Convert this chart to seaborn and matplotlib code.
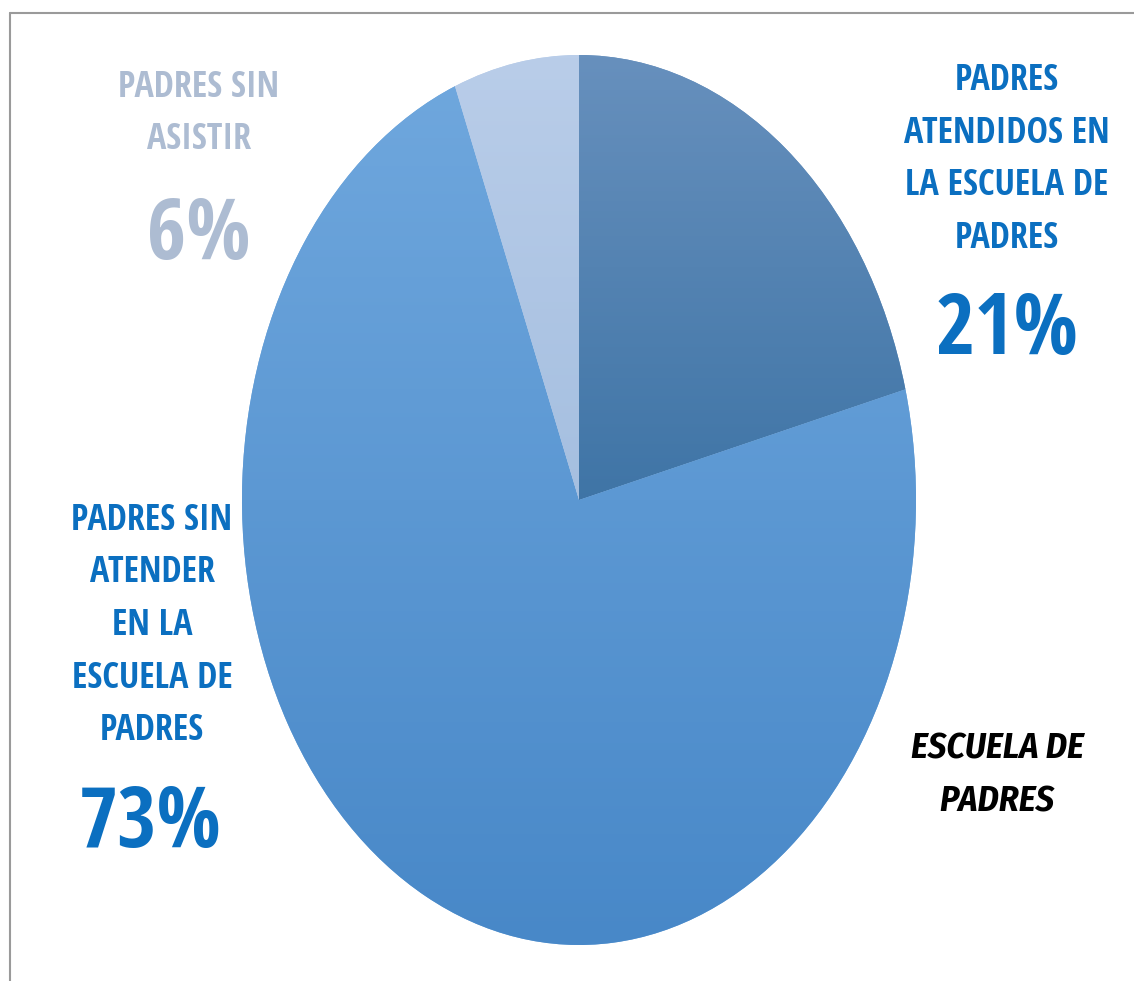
import numpy as np
import matplotlib
matplotlib.use("Agg")
import matplotlib.pyplot as plt
from matplotlib import font_manager
from matplotlib.colors import LinearSegmentedColormap
import seaborn as sns

# data
categories = ["PADRES ATENDIDOS EN LA ESCUELA DE PADRES",
              "PADRES SIN ATENDER EN LA ESCUELA DE PADRES",
              "PADRES SIN ASISTIR"]
label_lines = [["PADRES", "ATENDIDOS EN", "LA ESCUELA DE", "PADRES"],
               ["PADRES SIN", "ATENDER", "EN LA", "ESCUELA DE", "PADRES"],
               ["PADRES SIN", "ASISTIR"]]
values = [21, 73, 6]
title = "ESCUELA DE\nPADRES"

# gradient colours per slice (top of pie, bottom of pie)
grad_top = ["#6790bd", "#70a8de", "#b9cde9"]
grad_bottom = ["#17598f", "#4888c8", "#91b1d7"]
label_colors = ["#0b6fc0", "#0b6fc0", "#adbcd2"]

sns.set_style("white")
fonts = font_manager.fontManager.ttflist
fam = "Open Sans Condensed"
# a condensed family that has a bold italic face, for the title
italic_fams = sorted({f.name for f in fonts if ("Condensed" in f.name)
                      and f.style == "italic" and str(f.weight) in ("bold", "700")})
pref = ["Open Sans Condensed", "Fira Sans Condensed", "Encode Sans Condensed",
        "Asap Condensed", "Barlow Semi Condensed", "Cabin Condensed"]
title_fam = next((p for p in pref if p in italic_fams),
                 italic_fams[0] if italic_fams else fam)
plt.rcParams["font.family"] = [fam, "DejaVu Sans"]

W, H = 1134, 981
fig = plt.figure(figsize=(W / 100, H / 100), dpi=100)
fig.patch.set_facecolor("white")

# pie axes, stretched so the pie is an ellipse like the reference
cx, cy, rx, ry = 579, 500, 337, 445
ax = fig.add_axes([(cx - rx) / W, (H - cy - ry) / H, 2 * rx / W, 2 * ry / H])
wedges, _ = ax.pie(values, startangle=90, counterclock=False, radius=1,
                   colors=grad_top, wedgeprops=dict(linewidth=0))
ax.set_xlim(-1, 1)
ax.set_ylim(-1, 1)
ax.set_aspect("auto")
ax.axis("off")

grad = np.linspace(1, 0, 256).reshape(-1, 1)
for w, ct, cb in zip(wedges, grad_top, grad_bottom):
    cmap = LinearSegmentedColormap.from_list("g", [cb, ct])
    im = ax.imshow(grad, cmap=cmap, extent=(-1, 1, -1, 1), aspect="auto",
                   origin="upper", vmin=0, vmax=1, zorder=2)
    im.set_clip_path(w)


def px(x, y):
    return x / W, 1 - y / H


small = 26
big = 61
ls = 1.62
# 21 %
fig.text(*px(1007, 160), "\n".join(label_lines[0]), ha="center", va="center",
         fontsize=small, fontweight="bold", color=label_colors[0], linespacing=ls)
fig.text(*px(1007, 332), f"{values[0]}%", ha="center", va="center",
         fontsize=big, fontweight="bold", color=label_colors[0])
# 73 %
fig.text(*px(152, 626), "\n".join(label_lines[1]), ha="center", va="center",
         fontsize=small, fontweight="bold", color=label_colors[1], linespacing=ls)
fig.text(*px(150, 825), f"{values[1]}%", ha="center", va="center",
         fontsize=big, fontweight="bold", color=label_colors[1])
# 6 %
fig.text(*px(199, 114), "\n".join(label_lines[2]), ha="center", va="center",
         fontsize=small, fontweight="bold", color=label_colors[2], linespacing=ls)
fig.text(*px(199, 237), f"{values[2]}%", ha="center", va="center",
         fontsize=big, fontweight="bold", color=label_colors[2])
# title
fig.text(*px(997, 775), title, ha="center", va="center", fontsize=small,
         fontweight="bold", style="italic", color="black", linespacing=ls,
         family=[title_fam, "DejaVu Sans"])

# chart frame (top and left edges visible)
fig.add_artist(plt.Line2D([10 / W, 1], [1 - 13 / H] * 2, transform=fig.transFigure,
                          color="#9a9a9a", linewidth=1.5))
fig.add_artist(plt.Line2D([10 / W] * 2, [0, 1 - 13 / H], transform=fig.transFigure,
                          color="#9a9a9a", linewidth=1.5))

fig.savefig("out.png", dpi=100)
